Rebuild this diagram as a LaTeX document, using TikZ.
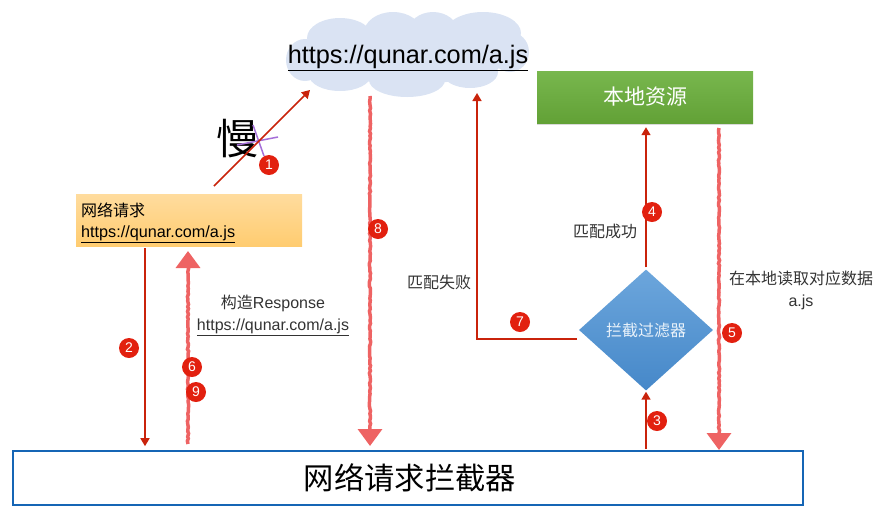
\documentclass[tikz,border=0pt]{standalone}
\usepackage{fontspec}
\setmainfont{Liberation Sans}
\newfontfamily\cjk{Noto Sans CJK SC}
\usetikzlibrary{shapes.geometric,arrows.meta,decorations.pathmorphing,shadows}
\definecolor{arrowred}{HTML}{C9230B}
\definecolor{sketchred}{HTML}{EE6363}
\definecolor{badgered}{HTML}{E2200F}
\definecolor{cloudblue}{HTML}{DAE3F3}
\definecolor{framblue}{HTML}{1565B5}
\definecolor{labelgray}{HTML}{333333}
\definecolor{crosspurple}{HTML}{A56FD8}
\definecolor{reqtop}{HTML}{FFDC9E}
\definecolor{reqbot}{HTML}{FFCC70}
\definecolor{localtop}{HTML}{78B74E}
\definecolor{localbot}{HTML}{62A136}
\definecolor{filtertop}{HTML}{6CA6DC}
\definecolor{filterbot}{HTML}{4688C9}
\tikzset{
  thinarrow/.style={arrowred,line width=1.6pt,-{Triangle[length=8pt,width=9pt]}},
  sketcharrow/.style={sketchred,line width=3.5pt,-{Triangle[length=17pt,width=24pt]},
    decorate,decoration={random steps,segment length=2.5pt,amplitude=.6pt,post length=16pt}},
  badge/.style={circle,fill=badgered,text=white,inner sep=0pt,minimum size=20pt,font=\fontsize{14}{14}\selectfont},
  lbl/.style={text=labelgray,align=center,inner sep=0pt,font=\fontsize{16}{22}\selectfont},
}
\begin{document}
\begin{tikzpicture}[x=1pt,y=-1pt]
  \useasboundingbox (0,0) rectangle (885,531);

  \foreach \cx/\cy/\rx/\ry in {340/38/33/20,393/33/29/21,433/32/25/20,483/33/38/21,510/52/19/20,470/72/28/16,407/80/38/17,340/75/31/16,305/60/19/21,410/55/100/29}
    \fill[cloudblue] (\cx,\cy) ellipse [x radius=\rx,y radius=\ry];
  \node[inner sep=0pt,font=\fontsize{25.3}{25.3}\selectfont] (url) at (408,58) {\underline{https://qunar.com/a.js}};

  \node[minimum width=226,minimum height=52,inner sep=0pt,top color=reqtop,bottom color=reqbot] (req) at (189,220) {};
  \node[anchor=west,align=left,inner sep=0pt,font=\fontsize{16.2}{21}\selectfont] (reqtext) at (81,223) {{\cjk\fontsize{16}{21}\selectfont 网络请求}\\\underline{https://qunar.com/a.js}};

  \node[minimum width=216,minimum height=52,inner sep=0pt,top color=localtop,bottom color=localbot,drop shadow={opacity=.3,shadow xshift=0pt,shadow yshift=-2pt},text=white,font=\cjk\fontsize{21}{21}\selectfont] (local) at (645,97) {本地资源};

  \node[diamond,inner sep=0pt,minimum width=134,minimum height=121,aspect=1.1,top color=filtertop,bottom color=filterbot,text=white!85!filtertop,font=\cjk\fontsize{16}{16}\selectfont] (filter) at (646,330) {拦截过滤器};

  \node[draw=framblue,line width=1.6pt,minimum width=790,minimum height=54,inner sep=0pt,font=\cjk\fontsize{30.3}{30}\selectfont] (hook) at (408,478) {\hspace{4pt}\raisebox{-3pt}{网络请求拦截器}};

  \node[font=\cjk\fontsize{42}{42}\selectfont,inner sep=0pt] (slow) at (237,139) {慢};
  \draw[crosspurple,line width=1.5pt] (253,125) -- (264,156);
  \draw[crosspurple,line width=1.5pt] (237,145) -- (278,137);

  \coordinate (slowstart) at (214,186);
  \coordinate (slowend) at (310,90);
  \draw[thinarrow] (slowstart) -- (slowend);
  \coordinate (reqdown) at (145,248);
  \draw[thinarrow,shorten >=4pt] (reqdown) -- (reqdown |- hook.north);
  \coordinate (respup) at (188,444);
  \coordinate (respend) at (188,251);
  \draw[sketcharrow] (respup) -- (respend);
  \coordinate (netdown) at (370,96);
  \coordinate (netend) at (370,446);
  \draw[sketcharrow] (netdown) -- (netend);
  \coordinate (localdown) at (719,128);
  \coordinate (localend) at (719,450);
  \draw[sketcharrow] (localdown) -- (localend);
  \draw[thinarrow,shorten <=1pt,shorten >=1pt] (filter.south |- hook.north) -- (filter.south);
  \draw[thinarrow,shorten <=2pt,shorten >=4pt] (filter.north) -- (filter.north |- local.south);
  \coordinate (failstart) at (577,339);
  \coordinate (failcorner) at (477,339);
  \coordinate (failend) at (477,93);
  \draw[thinarrow] (failstart) -- (failcorner) -- (failend);

  \foreach \n/\px/\py in {1/269/165,2/129/348,3/657/421,4/652/212,5/732/333,6/192/367,7/520/322,8/378/229,9/196/392}
    \node[badge] (badge\n) at (\px,\py) {\n};

  \node[lbl] (resptext) at (273,315) {{\cjk 构造}Response\\\underline{https://qunar.com/a.js}};
  \node[lbl] (failtext) at (439,282) {\cjk 匹配失败};
  \node[lbl] (oktext) at (605,231) {\cjk 匹配成功};
  \node[lbl] (readtext) at (801,290) {{\cjk 在本地读取对应数据}\\a.js};
\end{tikzpicture}
\end{document}
